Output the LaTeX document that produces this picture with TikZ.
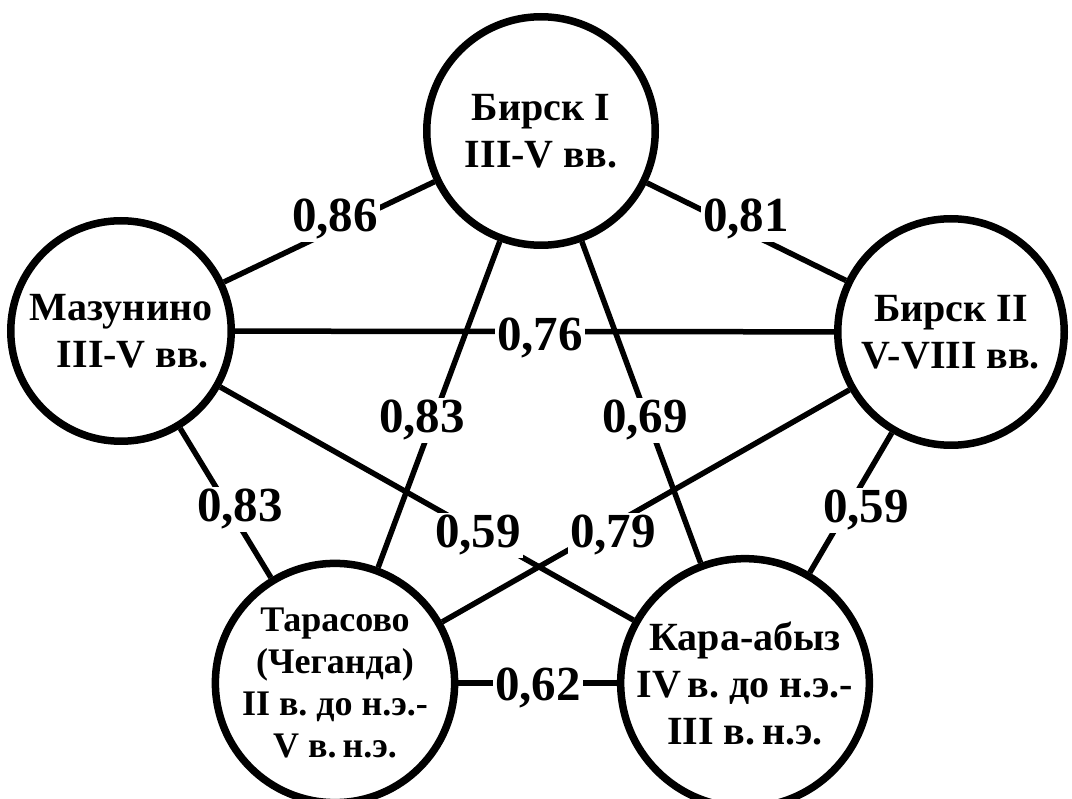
\documentclass[tikz,border=0pt]{standalone}
\usepackage{fontspec}
\setmainfont{Liberation Serif}
\frenchspacing
\begin{document}
\begin{tikzpicture}[x=1pt,y=-1pt,
  site/.style={circle, draw, line width=7.5pt, fill=white, inner sep=0pt, align=center,
    font=\bfseries\fontsize{40}{47}\selectfont},
  smallsite/.style={site, font=\bfseries\fontsize{36}{42}\selectfont},
  edge/.style={line width=5.5pt},
  coef/.style={fill=white, inner sep=2pt, anchor=base, font=\bfseries\fontsize{49}{49}\selectfont}]
\useasboundingbox (0,0) rectangle (1072,799);
\fill[white] (0,0) rectangle (1072,799);

% sites
\node[site, minimum size=228.5pt] (bi) at (541,131) {Бирск I\\III-V вв.};
\node[site, minimum size=220.5pt] (mz) at (121,331) {Мазунино\\\hspace*{0.6em}III-V вв.};
\node[site, minimum size=226.5pt] (b2) at (951,332) {Бирск II\\V-VIII вв.};
\node[smallsite, minimum size=224.5pt] (ta) at (335,683) {Тарасово\\(Чеганда)\\II в. до н.э.-\\V в.\,н.э.};
\node[site, minimum size=230.5pt] (ka) at (745,683) {Кара-абыз\\IV\,в. до н.э.-\\III в.\,н.э.};

% connectors
\draw[edge] (bi) -- (mz);
\draw[edge] (bi) -- (b2);
\draw[edge] (mz) -- (b2);
\draw[edge] (mz) -- (ta);
\draw[edge] (b2) -- (ka);
\draw[edge] (bi) -- (ta);
\draw[edge] (bi) -- (ka);
\draw[edge] (mz) -- (ka);
\draw[edge] (b2) -- (ta);
\draw[edge] (ta) -- (ka);

% coefficients
\node[coef] (c1) at (335,232) {0,86};
\node[coef] (c2) at (746,232) {0,81};
\node[coef] (c3) at (540,351) {0,76};
\node[coef] (c4) at (240,522) {0,83};
\node[coef] (c5) at (866,523) {0,59};
\node[coef] (c6) at (422,433) {0,83};
\node[coef] (c7) at (645,433) {0,69};
\node[coef] (c8) at (478,548) {0,59};
\node[coef] (c9) at (613,548) {0,79};
\node[coef] (c10) at (538,700) {0,62};
\end{tikzpicture}
\end{document}
